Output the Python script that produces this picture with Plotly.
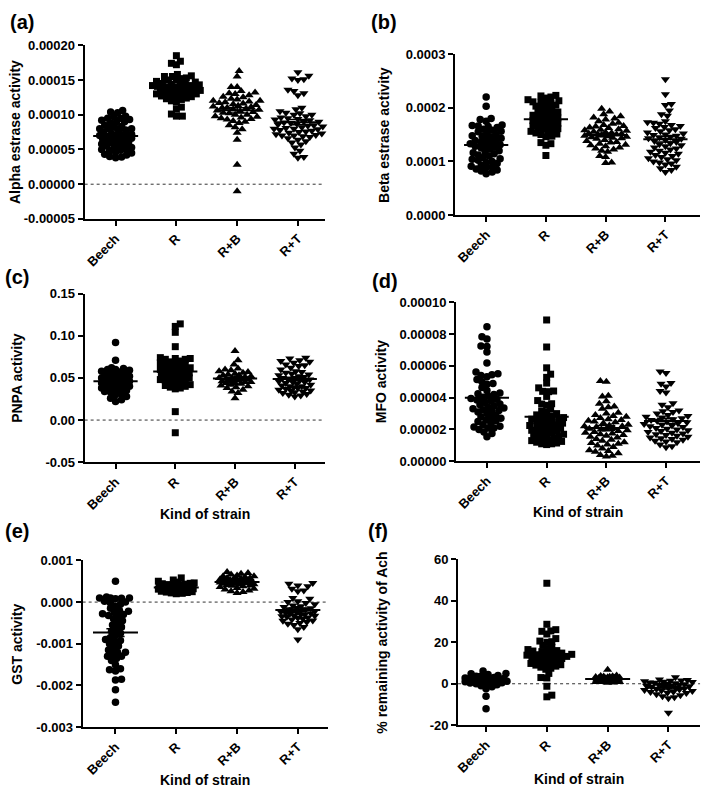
import numpy as np
import plotly.graph_objects as go

# ---------------- data ----------------
categories = ["Beech", "R", "R+B", "R+T"]

alpha_beech = [0.000106, 0.000104, 0.000103, 0.000098, 0.000097, 0.000095, 0.000095, 0.000093, 0.000092, 0.00009, 0.00009, 0.000088, 0.000085, 0.000083, 0.000082, 0.00008, 0.00008, 0.00008, 0.000078, 0.000077, 0.000075, 0.000073, 0.000072, 0.000071, 0.00007, 0.00007, 0.00007, 0.000069, 0.000068, 0.000067, 0.000066, 0.000065, 0.000064, 0.000063, 0.000062, 0.00006, 0.00006, 0.000059, 0.000058, 0.000057, 0.000056, 0.000055, 0.000053, 0.000051, 0.00005, 0.00005, 0.000049, 0.000048, 0.000046, 0.000045, 0.000043, 0.000042, 0.00004, 0.000039, 0.000038]
alpha_r = [0.000185, 0.000177, 0.000174, 0.000172, 0.000158, 0.000156, 0.000155, 0.000155, 0.000153, 0.000152, 0.00015, 0.00015, 0.000148, 0.000147, 0.000146, 0.000145, 0.000145, 0.000144, 0.000143, 0.000142, 0.000142, 0.000141, 0.00014, 0.00014, 0.000139, 0.000138, 0.000137, 0.000136, 0.000135, 0.000135, 0.000134, 0.000133, 0.000132, 0.000131, 0.00013, 0.00013, 0.000129, 0.000128, 0.000127, 0.000126, 0.000125, 0.000124, 0.000123, 0.000122, 0.00012, 0.000118, 0.000111, 0.000108, 0.000101, 0.000098, 0.000098]
alpha_rb = [0.000163, 0.000155, 0.00014, 0.00014, 0.000134, 0.000132, 0.000131, 0.00013, 0.000128, 0.000126, 0.000125, 0.000123, 0.000122, 0.00012, 0.00012, 0.000119, 0.000118, 0.000117, 0.000116, 0.000115, 0.000114, 0.000113, 0.000112, 0.000111, 0.00011, 0.00011, 0.000109, 0.000108, 0.000107, 0.000106, 0.000105, 0.000104, 0.000103, 0.000102, 0.0001, 0.0001, 0.000098, 0.000097, 0.000096, 0.000095, 0.000094, 0.000093, 0.000091, 0.00009, 0.000088, 0.000085, 0.000082, 0.000079, 0.000074, 0.000064, 0.000028, -0.00001]
alpha_rt = [0.000161, 0.000156, 0.000152, 0.000151, 0.00015, 0.000136, 0.000134, 0.000131, 0.000128, 0.00011, 0.000108, 0.000105, 0.000103, 0.000102, 0.0001, 0.0001, 0.000098, 0.000096, 0.000095, 0.000094, 0.000093, 0.000092, 0.00009, 0.00009, 0.000089, 0.000088, 0.000087, 0.000086, 0.000085, 0.000084, 0.000083, 0.000082, 0.000081, 0.00008, 0.00008, 0.000079, 0.000078, 0.000077, 0.000076, 0.000075, 0.000074, 0.000073, 0.000072, 0.000071, 0.00007, 0.00007, 0.000069, 0.000068, 0.000066, 0.000064, 0.000062, 0.00006, 0.000057, 0.000053, 0.000048, 0.000044, 0.000039, 0.000038]

beta_beech = [0.00022, 0.000203, 0.00018, 0.000178, 0.000175, 0.000168, 0.000167, 0.000166, 0.000165, 0.000163, 0.00016, 0.000158, 0.000156, 0.000155, 0.000152, 0.00015, 0.000148, 0.000147, 0.000145, 0.000143, 0.00014, 0.000139, 0.000138, 0.000136, 0.000134, 0.000133, 0.000131, 0.00013, 0.000128, 0.000127, 0.000125, 0.000123, 0.00012, 0.000118, 0.000116, 0.000114, 0.000112, 0.00011, 0.000107, 0.000105, 0.000104, 0.000102, 0.0001, 0.000098, 0.000096, 0.000093, 0.000091, 0.00009, 0.000088, 0.000086, 0.000084, 0.000082, 0.00008, 0.000077]
beta_r = [0.000223, 0.000222, 0.00022, 0.000218, 0.000215, 0.000213, 0.000211, 0.00021, 0.000208, 0.000206, 0.000205, 0.000203, 0.0002, 0.000198, 0.000196, 0.000194, 0.000192, 0.00019, 0.000188, 0.000186, 0.000185, 0.000183, 0.000181, 0.00018, 0.000178, 0.000176, 0.000175, 0.000173, 0.000171, 0.00017, 0.000168, 0.000166, 0.000165, 0.000163, 0.000161, 0.00016, 0.000158, 0.000156, 0.000155, 0.000153, 0.000151, 0.00015, 0.000147, 0.000146, 0.000135, 0.000133, 0.00013, 0.000111]
beta_rb = [0.000198, 0.000193, 0.000188, 0.000184, 0.000182, 0.00018, 0.000178, 0.000175, 0.000172, 0.00017, 0.000168, 0.000166, 0.000165, 0.000163, 0.000162, 0.00016, 0.000159, 0.000158, 0.000157, 0.000155, 0.000154, 0.000153, 0.000152, 0.000151, 0.00015, 0.00015, 0.000149, 0.000148, 0.000147, 0.000146, 0.000145, 0.000144, 0.000143, 0.000142, 0.00014, 0.000138, 0.000136, 0.000135, 0.000133, 0.000131, 0.00013, 0.000128, 0.000126, 0.000124, 0.000122, 0.00012, 0.000118, 0.00011, 0.000108, 0.000098, 0.000097]
beta_rt = [0.000253, 0.000225, 0.000207, 0.000205, 0.000195, 0.000188, 0.000185, 0.000175, 0.000173, 0.000172, 0.00017, 0.000168, 0.000166, 0.000164, 0.000162, 0.00016, 0.000158, 0.000156, 0.000154, 0.000152, 0.00015, 0.000149, 0.000148, 0.000146, 0.000145, 0.000143, 0.000142, 0.00014, 0.000138, 0.000136, 0.000134, 0.000132, 0.00013, 0.000128, 0.000126, 0.000124, 0.000122, 0.00012, 0.000118, 0.000116, 0.000114, 0.000112, 0.00011, 0.000108, 0.000106, 0.000104, 0.000102, 0.0001, 0.000098, 0.000096, 0.000094, 0.00009, 0.000087, 0.000084, 0.00008]

pnpa_beech = [0.092, 0.071, 0.062, 0.061, 0.06, 0.06, 0.059, 0.058, 0.057, 0.056, 0.055, 0.054, 0.053, 0.052, 0.051, 0.05, 0.05, 0.049, 0.048, 0.048, 0.047, 0.046, 0.046, 0.045, 0.044, 0.044, 0.043, 0.042, 0.042, 0.041, 0.04, 0.04, 0.039, 0.038, 0.037, 0.036, 0.035, 0.035, 0.034, 0.033, 0.031, 0.03, 0.028, 0.026, 0.024, 0.022]
pnpa_r = [0.114, 0.111, 0.104, 0.087, 0.074, 0.073, 0.073, 0.072, 0.072, 0.07, 0.069, 0.068, 0.067, 0.066, 0.065, 0.064, 0.063, 0.062, 0.061, 0.06, 0.06, 0.059, 0.058, 0.057, 0.056, 0.055, 0.054, 0.053, 0.052, 0.051, 0.05, 0.05, 0.049, 0.048, 0.047, 0.046, 0.045, 0.044, 0.043, 0.042, 0.041, 0.04, 0.039, 0.038, 0.037, 0.01, -0.015]
pnpa_rb = [0.082, 0.071, 0.066, 0.061, 0.06, 0.059, 0.058, 0.057, 0.056, 0.055, 0.054, 0.053, 0.053, 0.052, 0.051, 0.05, 0.05, 0.049, 0.049, 0.048, 0.048, 0.047, 0.047, 0.046, 0.046, 0.045, 0.045, 0.044, 0.044, 0.043, 0.042, 0.041, 0.04, 0.039, 0.038, 0.036, 0.034, 0.032, 0.026]
pnpa_rt = [0.074, 0.073, 0.071, 0.07, 0.069, 0.068, 0.066, 0.065, 0.064, 0.062, 0.06, 0.058, 0.057, 0.056, 0.055, 0.054, 0.053, 0.052, 0.051, 0.05, 0.049, 0.048, 0.047, 0.046, 0.045, 0.044, 0.043, 0.042, 0.041, 0.04, 0.039, 0.038, 0.037, 0.036, 0.035, 0.034, 0.033, 0.032, 0.031, 0.03, 0.029, 0.028, 0.04, 0.045, 0.05, 0.035, 0.038]

mfo_beech = [0.0000846, 0.0000784, 0.000077, 0.0000725, 0.0000722, 0.0000688, 0.0000618, 0.0000562, 0.000055, 0.0000545, 0.000054, 0.0000532, 0.0000515, 0.00005, 0.000049, 0.0000485, 0.0000465, 0.0000445, 0.000043, 0.0000425, 0.000042, 0.000041, 0.00004, 0.0000395, 0.000039, 0.0000385, 0.000038, 0.000037, 0.000036, 0.0000355, 0.000035, 0.000034, 0.0000335, 0.000033, 0.0000325, 0.000032, 0.0000315, 0.000031, 0.00003, 0.000029, 0.000028, 0.0000275, 0.000027, 0.000026, 0.0000255, 0.000025, 0.000024, 0.000023, 0.000022, 0.0000215, 0.000021, 0.000021, 0.00002, 0.0000185, 0.0000175, 0.0000155]
mfo_r = [0.0000889, 0.0000719, 0.0000588, 0.0000548, 0.0000528, 0.0000492, 0.0000462, 0.0000442, 0.0000440, 0.0000438, 0.0000408, 0.0000382, 0.0000362, 0.000036, 0.0000352, 0.000033, 0.0000315, 0.000031, 0.00003, 0.0000292, 0.0000285, 0.000028, 0.0000275, 0.000027, 0.0000265, 0.000026, 0.0000255, 0.000025, 0.0000245, 0.000024, 0.0000235, 0.000023, 0.0000225, 0.000022, 0.0000215, 0.000021, 0.000021, 0.00002, 0.0000195, 0.000019, 0.0000185, 0.000018, 0.0000175, 0.000017, 0.0000165, 0.000016, 0.0000155, 0.000015, 0.0000145, 0.000014, 0.0000135, 0.000013, 0.0000125, 0.000012, 0.0000115, 0.000011, 0.000011, 0.0000105]
mfo_rb = [0.0000505, 0.00005, 0.0000412, 0.0000408, 0.0000378, 0.0000362, 0.0000345, 0.000034, 0.000033, 0.0000305, 0.00003, 0.0000292, 0.0000285, 0.000028, 0.0000272, 0.0000265, 0.000026, 0.0000255, 0.000025, 0.0000245, 0.000024, 0.000023, 0.0000225, 0.000022, 0.000022, 0.0000215, 0.000021, 0.0000205, 0.00002, 0.00002, 0.0000195, 0.000019, 0.0000185, 0.000018, 0.0000175, 0.000017, 0.0000165, 0.000016, 0.0000155, 0.000015, 0.000014, 0.0000135, 0.000013, 0.000012, 0.0000115, 0.000011, 0.0000105, 0.00001, 0.000009, 0.000008, 0.000007, 0.0000065, 0.000006, 0.000005, 0.000004, 0.0000035, 0.000003]
mfo_rt = [0.0000565, 0.0000555, 0.0000492, 0.0000488, 0.000047, 0.0000442, 0.0000432, 0.0000365, 0.0000355, 0.000034, 0.000032, 0.0000315, 0.000031, 0.00003, 0.0000292, 0.0000285, 0.000028, 0.0000275, 0.000027, 0.0000265, 0.000026, 0.0000255, 0.000025, 0.0000245, 0.000024, 0.0000235, 0.000023, 0.0000225, 0.000022, 0.0000215, 0.000021, 0.0000205, 0.00002, 0.0000195, 0.000019, 0.0000185, 0.000018, 0.0000175, 0.000017, 0.0000165, 0.000016, 0.0000155, 0.000015, 0.0000145, 0.000014, 0.0000135, 0.000013, 0.0000125, 0.000012, 0.0000105, 0.0000095, 0.0000088]

gst_beech = [0.0005, 0.00012, 0.0001, 0.0001, 0.00009, 0.00008, 0.0001, 0.00002, 0.0, -0.00002, -0.00005, -0.0001, -0.00015, -0.0002, -0.00022, -0.00025, -0.00028, -0.0003, -0.00032, -0.00035, -0.0004, -0.00045, -0.0005, -0.00055, -0.0006, -0.00065, -0.0007, -0.00075, -0.0008, -0.00085, -0.0009, -0.00092, -0.00095, -0.001, -0.00105, -0.0011, -0.00115, -0.0012, -0.0012, -0.00125, -0.0013, -0.0013, -0.00135, -0.0014, -0.0015, -0.0016, -0.00162, -0.00165, -0.00185, -0.00187, -0.0021, -0.0024]
gst_r = [0.00058, 0.00053, 0.0005, 0.00048, 0.00046, 0.00045, 0.00044, 0.00042, 0.00041, 0.0004, 0.0004, 0.00039, 0.00038, 0.00037, 0.00036, 0.00036, 0.00035, 0.00035, 0.00034, 0.00034, 0.00033, 0.00033, 0.00032, 0.00032, 0.00031, 0.0003, 0.0003, 0.00029, 0.00028, 0.00027, 0.00026, 0.00025, 0.00024, 0.00023, 0.00022, 0.00021, 0.0002, 0.00043, 0.00037, 0.00031, 0.00028]
gst_rb = [0.00072, 0.0007, 0.00068, 0.00066, 0.00064, 0.00062, 0.0006, 0.00058, 0.00057, 0.00056, 0.00055, 0.00054, 0.00053, 0.00052, 0.00051, 0.0005, 0.0005, 0.00049, 0.00048, 0.00048, 0.00047, 0.00046, 0.00046, 0.00045, 0.00044, 0.00043, 0.00042, 0.00041, 0.0004, 0.00039, 0.00038, 0.00036, 0.00034, 0.00032, 0.0003, 0.00028, 0.00026, 0.00024, 0.00022, 0.00062, 0.00058, 0.00052, 0.00047, 0.00044]
gst_rt = [0.00046, 0.00044, 0.0004, 0.00038, 0.00032, 0.00028, 0.00026, 0.0001, 0.00008, 0.00002, 0.0, -0.00002, -0.00005, -0.00008, -0.0001, -0.00012, -0.00014, -0.00015, -0.00017, -0.00018, -0.0002, -0.0002, -0.00022, -0.00023, -0.00025, -0.00026, -0.00027, -0.00028, -0.0003, -0.0003, -0.00032, -0.00033, -0.00034, -0.00035, -0.00037, -0.00038, -0.0004, -0.00042, -0.00044, -0.00045, -0.00048, -0.0005, -0.00052, -0.00055, -0.0006, -0.00065, -0.0009]

ach_beech = [6.2, 5.0, 4.8, 4.5, 4.0, 3.5, 3.2, 3.0, 2.8, 2.5, 2.3, 2.2, 2.0, 2.0, 1.8, 1.5, 1.2, 1.0, 0.8, 0.5, 0.2, 0.0, -0.5, -1.0, -1.5, -2.4, -6.0, -12.0, 2.6, 1.6, 3.6, 0.4]
ach_r = [48.5, 28.7, 26.1, 25.5, 25.3, 24.0, 21.8, 20.6, 20.3, 20.0, 18.5, 17.5, 17.0, 16.5, 16.0, 15.8, 15.5, 15.0, 14.8, 14.5, 14.2, 14.0, 13.8, 13.5, 13.2, 13.0, 12.8, 12.5, 12.2, 12.0, 11.5, 11.0, 10.5, 10.0, 9.8, 9.5, 9.2, 9.0, 8.5, 8.0, 7.5, 7.0, 5.0, 3.0, 2.8, -1.2, -5.5, -6.3]
ach_rb = [6.8, 4.0, 3.8, 3.6, 3.5, 3.3, 3.2, 3.0, 2.9, 2.8, 2.6, 2.5, 2.4, 2.3, 2.2, 2.1, 2.0, 1.9, 1.8, 1.7, 1.6, 1.5, 1.4, 1.3, 1.2, 1.1, 1.0, 0.9, 0.8, 0.6, 0.5, 3.4, 2.7, 1.5, 0.9, 2.2]
ach_rt = [3.2, 2.0, 1.8, 1.5, 1.2, 1.0, 0.8, 0.5, 0.2, 0.0, -0.3, -0.5, -0.8, -1.0, -1.2, -1.5, -1.8, -2.0, -2.3, -2.5, -2.8, -3.0, -3.3, -3.5, -3.8, -4.0, -4.3, -4.5, -5.0, -5.5, -6.0, -6.5, -7.0, -14.0, 1.6, 0.6, -0.2, -1.1]

alpha_ticks = [-0.00005, 0.0, 0.00005, 0.0001, 0.00015, 0.0002]
alpha_ticktext = ["-0.00005", "0.00000", "0.00005", "0.00010", "0.00015", "0.00020"]
beta_ticks = [0.0, 0.0001, 0.0002, 0.0003]
beta_ticktext = ["0.0000", "0.0001", "0.0002", "0.0003"]
pnpa_ticks = [-0.05, 0.0, 0.05, 0.10, 0.15]
pnpa_ticktext = ["-0.05", "0.00", "0.05", "0.10", "0.15"]
mfo_ticks = [0.0, 0.00002, 0.00004, 0.00006, 0.00008, 0.0001]
mfo_ticktext = ["0.00000", "0.00002", "0.00004", "0.00006", "0.00008", "0.00010"]
gst_ticks = [-0.003, -0.002, -0.001, 0.0, 0.001]
gst_ticktext = ["-0.003", "-0.002", "-0.001", "0.000", "0.001"]
ach_ticks = [-20, 0, 20, 40, 60]
ach_ticktext = ["-20", "0", "20", "40", "60"]

# ---------------- layout / styling ----------------
W, H = 714, 797
FONT = "Liberation Sans, Arial, Helvetica, sans-serif"
symbols = ["circle", "square", "triangle-up", "triangle-down"]
msizes = [7.5, 7, 8, 8]

panels = [
    dict(label="(a)", title="Alpha estrase activity", groups=[alpha_beech, alpha_r, alpha_rb, alpha_rt],
         ticks=alpha_ticks, ticktext=alpha_ticktext, yr=[-0.00005, 0.0002], zero=True, xtitle=False,
         px=(82, 323, 39, 216), xr=[-0.51, 3.44], lab=(19, 15), ytx=12, sw=[16, 24, 24, 25]),
    dict(label="(b)", title="Beta estrase activity", groups=[beta_beech, beta_r, beta_rb, beta_rt],
         ticks=beta_ticks, ticktext=beta_ticktext, yr=[0.0, 0.0003], zero=False, xtitle=False,
         px=(454, 700, 48, 212), xr=[-0.52, 3.58], lab=(383, 15), ytx=382, sw=[20, 19, 21, 19]),
    dict(label="(c)", title="PNPA activity", groups=[pnpa_beech, pnpa_r, pnpa_rb, pnpa_rt],
         ticks=pnpa_ticks, ticktext=pnpa_ticktext, yr=[-0.05, 0.15], zero=True, xtitle=True,
         px=(82, 323, 292, 464), xr=[-0.517, 3.5], lab=(14, 275), ytx=14, xty=517, sw=[14, 17, 16, 16]),
    dict(label="(d)", title="MFO activity", groups=[mfo_beech, mfo_r, mfo_rb, mfo_rt],
         ticks=mfo_ticks, ticktext=mfo_ticktext, yr=[0.0, 0.0001], zero=False, xtitle=True,
         px=(455, 700, 301, 463), xr=[-0.517, 3.57], lab=(384, 279), ytx=379, xty=515, sw=[21, 19, 22, 23]),
    dict(label="(e)", title="GST activity", groups=[gst_beech, gst_r, gst_rb, gst_rt],
         ticks=gst_ticks, ticktext=gst_ticktext, yr=[-0.003, 0.001], zero=True, xtitle=True,
         px=(80, 326, 564, 734), xr=[-0.54, 3.49], lab=(14, 534), ytx=14, xty=788, sw=[16, 18, 17, 17]),
    dict(label="(f)", title="% remaining activity of Ach", groups=[ach_beech, ach_r, ach_rb, ach_rt],
         ticks=ach_ticks, ticktext=ach_ticktext, yr=[-20, 60], zero=True, xtitle=True,
         px=(457, 700, 563, 732), xr=[-0.46, 3.52], lab=(377, 534), ytx=381, xty=787, sw=[21, 25, 12, 24]),
]


def swarm_offsets(vals, ypx, xpx, diam, maxw):
    """Beeswarm: horizontal offsets (category units) so markers overlap as little as possible."""
    order = np.argsort(vals)
    placed = []
    offs = np.zeros(len(vals))
    npos = nneg = 0
    for idx in order:
        y = vals[idx] * ypx
        cands = [0.0]
        for k in range(1, int(maxw) + 1):
            cands += [k, -k] if npos <= nneg else [-k, k]
        best, bestscore, bestc = None, -1, 0.0
        for c in cands:
            md = min([np.hypot(c - px, y - py) for px, py in placed], default=1e9)
            if md >= diam:
                best = c
                break
            if md > bestscore + 0.5:
                bestscore, bestc = md, c
        if best is None:
            best = bestc
        if best > 0:
            npos += 1
        elif best < 0:
            nneg += 1
        placed.append((best, y))
        offs[idx] = best / xpx
    return offs


fig = go.Figure()
annotations = []
shapes = []
layout = dict(width=W, height=H, margin=dict(l=0, r=0, t=0, b=0),
              paper_bgcolor="white", plot_bgcolor="white", showlegend=False,
              font=dict(family=FONT, color="black"))

for p_i, p in enumerate(panels):
    n = "" if p_i == 0 else str(p_i + 1)
    xa, ya = "x" + n, "y" + n
    x0, x1, yt, yb = p["px"]
    xpx = (x1 - x0) / (p["xr"][1] - p["xr"][0])
    ypx = (yb - yt) / (p["yr"][1] - p["yr"][0])
    layout["xaxis" + n] = dict(domain=[x0 / W, x1 / W], range=p["xr"], anchor=ya,
                               tickvals=list(range(len(categories))), ticktext=categories,
                               tickangle=-45, showline=True, linecolor="black", linewidth=2,
                               ticks="outside", ticklen=5, tickwidth=2, tickcolor="black",
                               showgrid=False, zeroline=False,
                               tickfont=dict(family=FONT, size=13, color="black", weight="bold"))
    layout["yaxis" + n] = dict(domain=[1 - yb / H, 1 - yt / H], range=p["yr"], anchor=xa,
                               tickvals=p["ticks"], ticktext=p["ticktext"],
                               showline=True, linecolor="black", linewidth=2,
                               ticks="outside", ticklen=5, tickwidth=2, tickcolor="black",
                               showgrid=False, zeroline=False,
                               tickfont=dict(family=FONT, size=13, color="black", weight="bold"))
    if p["zero"]:
        shapes.append(dict(type="line", xref=xa + " domain", yref=ya, x0=0, x1=1, y0=0, y1=0,
                           line=dict(color="#333333", width=1, dash="dot"), layer="below"))
    for g_i, vals in enumerate(p["groups"]):
        v = np.array(vals, dtype=float)
        offs = swarm_offsets(v, ypx, xpx, msizes[g_i] * 0.72, p["sw"][g_i])
        fig.add_trace(go.Scatter(x=g_i + offs, y=v, mode="markers", xaxis=xa, yaxis=ya,
                                 cliponaxis=False,
                                 marker=dict(symbol=symbols[g_i], size=msizes[g_i], color="black",
                                             line=dict(width=0))))
        m = v.mean()
        sem = v.std(ddof=1) / np.sqrt(len(v))
        fig.add_trace(go.Scatter(x=[g_i - 0.37, g_i + 0.37], y=[m, m], mode="lines",
                                 xaxis=xa, yaxis=ya, line=dict(color="black", width=2)))
        for e in (m - sem, m + sem):
            fig.add_trace(go.Scatter(x=[g_i - 0.15, g_i + 0.15], y=[e, e], mode="lines",
                                     xaxis=xa, yaxis=ya, line=dict(color="black", width=1.5)))
        fig.add_trace(go.Scatter(x=[g_i, g_i], y=[m - sem, m + sem], mode="lines",
                                 xaxis=xa, yaxis=ya, line=dict(color="black", width=1.5)))
    annotations.append(dict(x=p["lab"][0] / W, y=1 - p["lab"][1] / H, xref="paper", yref="paper",
                            text=p["label"], showarrow=False, xanchor="center", yanchor="middle",
                            font=dict(family=FONT, size=20, color="black", weight="bold")))
    annotations.append(dict(x=p["ytx"] / W, y=1 - (yt + yb) / 2 / H, xref="paper", yref="paper",
                            text=p["title"], textangle=-90, showarrow=False,
                            xanchor="center", yanchor="middle",
                            font=dict(family=FONT, size=14, color="black", weight="bold")))
    if p["xtitle"]:
        annotations.append(dict(x=(x0 + x1) / 2 / W, y=1 - p["xty"] / H, xref="paper", yref="paper",
                                text="Kind of strain", showarrow=False,
                                xanchor="center", yanchor="middle",
                                font=dict(family=FONT, size=14, color="black", weight="bold")))

layout["annotations"] = annotations
layout["shapes"] = shapes
fig.update_layout(**layout)
fig.write_html("out.html", config={"displayModeBar": False},
               post_script="document.body.style.margin='0';document.body.style.padding='0';")
